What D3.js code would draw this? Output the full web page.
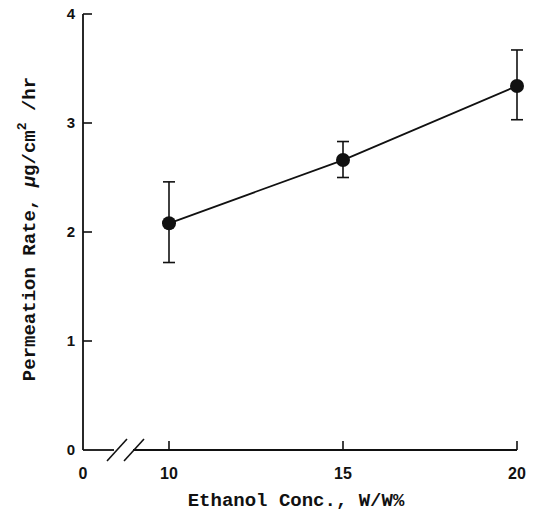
<!DOCTYPE html>
<html>
<head>
<meta charset="utf-8">
<script src="https://cdn.jsdelivr.net/npm/d3@7"></script>
<style>
  html, body { margin: 0; padding: 0; background: #fff; }
  svg { display: block; }
</style>
</head>
<body>
<svg id="chart" width="537" height="512"></svg>
<script>
// Permeation rate versus ethanol concentration
const ethanol = [10, 15, 20];
const rate = [2.08, 2.66, 3.34];
const errHigh = [2.46, 2.83, 3.67];
const errLow = [1.72, 2.50, 3.03];
const xTicks = [0, 10, 15, 20];
const yTicks = [0, 1, 2, 3, 4];

const svg = d3.select("#chart");
const ink = "#111";
const tickFont = "Liberation Sans, Arial, sans-serif";
const titleFont = "Liberation Mono, Courier New, monospace";

// Broken x axis: 0 sits at the origin, data range 10–20 on the right
const x = d3.scaleLinear().domain([10, 20]).range([169, 517]);
const xPos = v => v === 0 ? 83 : x(v);
const y = d3.scaleLinear().domain([0, 4]).range([450, 14]);

// Axes lines
svg.append("line").attr("x1", 83).attr("x2", 83).attr("y1", y(4)).attr("y2", y(0))
  .attr("stroke", ink).attr("stroke-width", 1.8);
svg.append("line").attr("x1", 83).attr("x2", 114).attr("y1", y(0)).attr("y2", y(0))
  .attr("stroke", ink).attr("stroke-width", 1.8);
svg.append("line").attr("x1", 133).attr("x2", x(20)).attr("y1", y(0)).attr("y2", y(0))
  .attr("stroke", ink).attr("stroke-width", 1.8);

// Axis break marks
[[107, 127], [124, 144]].forEach(([a, b]) => {
  svg.append("line").attr("x1", a).attr("y1", 461).attr("x2", b).attr("y2", 439)
    .attr("stroke", ink).attr("stroke-width", 1.6);
});

// Y ticks (inward) and labels
yTicks.forEach(t => {
  if (t > 0) {
    svg.append("line").attr("x1", 83).attr("x2", 92).attr("y1", y(t)).attr("y2", y(t))
      .attr("stroke", ink).attr("stroke-width", 1.6);
  }
  svg.append("text").attr("x", 71).attr("y", y(t) + 5).attr("text-anchor", "middle")
    .attr("font-family", tickFont).attr("font-size", 15)
    .attr("font-weight", "bold").attr("fill", ink).text(t);
});

// X ticks (inward) and labels
xTicks.forEach(t => {
  if (t > 0) {
    svg.append("line").attr("x1", xPos(t)).attr("x2", xPos(t)).attr("y1", y(0)).attr("y2", y(0) - 9)
      .attr("stroke", ink).attr("stroke-width", 1.6);
  }
  svg.append("text").attr("x", xPos(t)).attr("y", 479).attr("text-anchor", "middle")
    .attr("font-family", tickFont).attr("font-size", 16)
    .attr("font-weight", "bold").attr("fill", ink).text(t);
});

// Axis titles
svg.append("text").attr("x", 296).attr("y", 506).attr("text-anchor", "middle")
  .attr("font-family", titleFont).attr("font-size", 19)
  .attr("font-weight", "bold").attr("fill", ink).text("Ethanol Conc., W/W%");

const yt = svg.append("text").attr("transform", "translate(35,229) rotate(-90)")
  .attr("text-anchor", "middle")
  .attr("font-family", titleFont).attr("font-size", 19)
  .attr("font-weight", "bold").attr("fill", ink);
yt.append("tspan").text("Permeation Rate, ");
yt.append("tspan").attr("font-style", "italic").text("μ");
yt.append("tspan").text("g/cm");
yt.append("tspan").attr("dy", -9).attr("font-size", 13).text("2");
yt.append("tspan").attr("dy", 9).text(" /hr");

// Connecting line
const line = d3.line().x((d, i) => x(ethanol[i])).y(d => y(d));
svg.append("path").datum(rate).attr("d", line)
  .attr("fill", "none").attr("stroke", ink).attr("stroke-width", 1.8);

// Error bars
ethanol.forEach((e, i) => {
  const cx = x(e);
  svg.append("line").attr("x1", cx).attr("x2", cx).attr("y1", y(errHigh[i])).attr("y2", y(errLow[i]))
    .attr("stroke", ink).attr("stroke-width", 1.6);
  [errHigh[i], errLow[i]].forEach(v => {
    svg.append("line").attr("x1", cx - 6).attr("x2", cx + 6).attr("y1", y(v)).attr("y2", y(v))
      .attr("stroke", ink).attr("stroke-width", 1.6);
  });
});

// Points
svg.selectAll("circle.pt").data(rate).enter().append("circle")
  .attr("class", "pt").attr("cx", (d, i) => x(ethanol[i])).attr("cy", d => y(d))
  .attr("r", 7).attr("fill", ink);
</script>
</body>
</html>
